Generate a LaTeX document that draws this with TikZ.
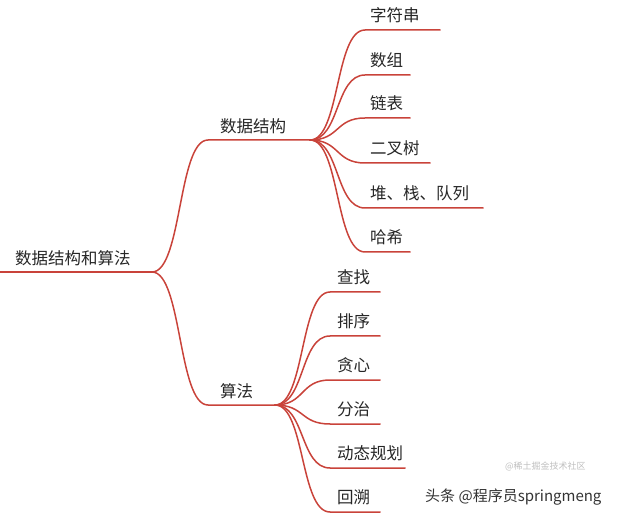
\documentclass[tikz,border=0pt]{standalone}
\usepackage{fontspec}
\setmainfont{Noto Sans CJK SC}
\begin{document}
\begin{tikzpicture}[x=1pt,y=-1pt]
\definecolor{brc}{HTML}{C9433A}
\tikzset{br/.style={draw=brc,line width=1.5pt,line cap=round},
  lbl/.style={anchor=south west,inner sep=0pt,font=\fontsize{16.5}{16.5}\selectfont,text=black!85}}
\useasboundingbox (0,0) rectangle (640,521);
% root
\coordinate (r0) at (0,272); \coordinate (r1) at (152,272);
\node[lbl] (root) at (15,266) {数据结构和算法};
\draw[br] (r0) -- (r1);
% level 1
\coordinate (a0) at (208,140); \coordinate (a1) at (310,140);
\coordinate (b0) at (208,405); \coordinate (b1) at (275,405);
\node[lbl] (ds) at (220,134) {数据结构};
\node[lbl] (alg) at (220,399) {算法};
\draw[br] (r1) .. controls (182,272) and (178,140) .. (a0) -- (a1);
\draw[br] (r1) .. controls (182,272) and (178,405) .. (b0) -- (b1);
% children of 数据结构
\foreach \n/\t/\y/\e in {c1/字符串/30/440, c2/数组/75/410, c3/链表/118/410, c4/二叉树/163/430, c5/堆、栈、队列/208/483, c6/哈希/252/410}{
  \coordinate (\n s) at (365,\y); \coordinate (\n e) at (\e,\y);
  \node[lbl] (\n) at (370,\y-7) {\t};
  \draw[br] (a1) .. controls (340,140) and (335,\y) .. (\n s) -- (\n e);
}
% children of 算法
\foreach \n/\t/\y/\e in {d1/查找/292/380, d2/排序/336/380, d3/贪心/380/380, d4/分治/424/380, d5/动态规划/468/405, d6/回溯/512/380}{
  \coordinate (\n s) at (330,\y); \coordinate (\n e) at (\e,\y);
  \node[lbl] (\n) at (337,\y-7) {\t};
  \draw[br] (b1) .. controls (305,405) and (300,\y) .. (\n s) -- (\n e);
}
\node[anchor=west,inner sep=0pt,font=\fontsize{9}{9}\selectfont,text=black!25] (wm1) at (505,466) {@稀土掘金技术社区};
\node[anchor=west,inner sep=0pt,font=\fontsize{15}{15}\selectfont,text=black!80] (wm2) at (425,497) {头条 @程序员springmeng};
\end{tikzpicture}
\end{document}
